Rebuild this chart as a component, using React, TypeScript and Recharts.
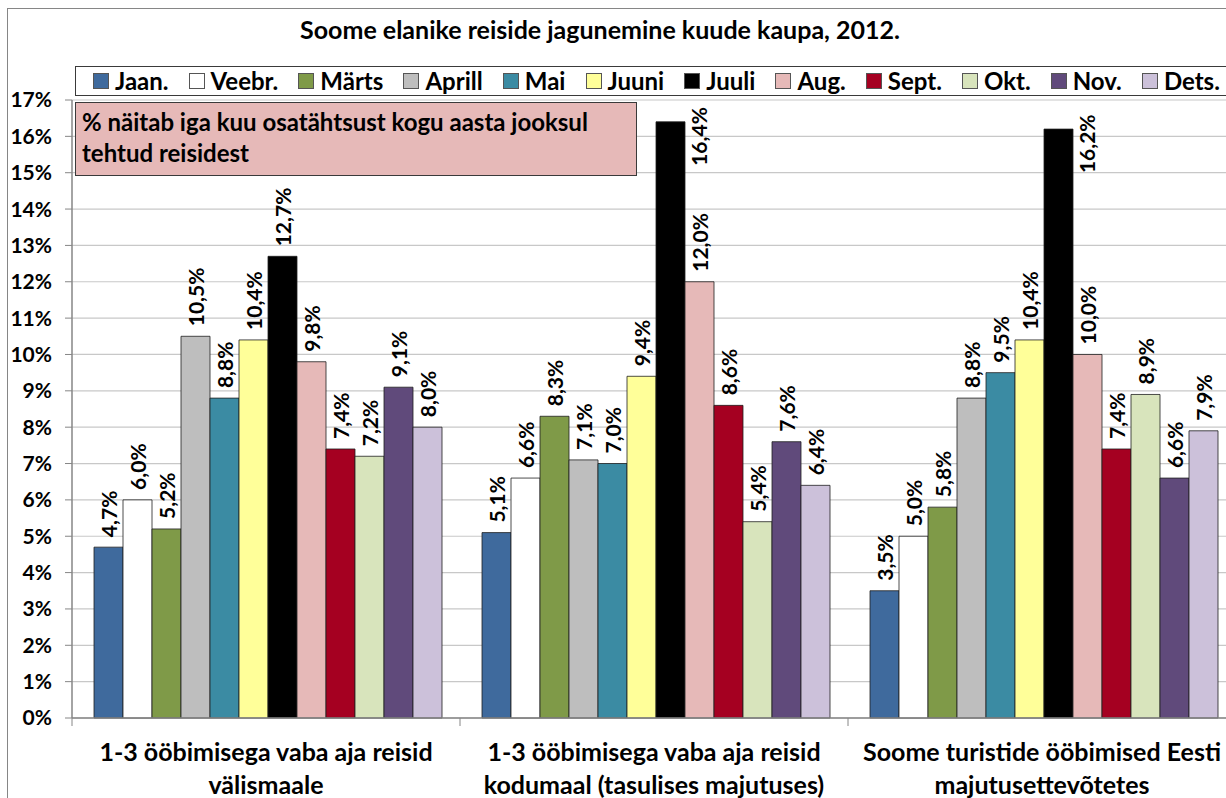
import { BarChart, Bar, XAxis, YAxis, CartesianGrid, LabelList } from 'recharts';

const months = ['Jaan.', 'Veebr.', 'Märts', 'Aprill', 'Mai', 'Juuni', 'Juuli', 'Aug.', 'Sept.', 'Okt.', 'Nov.', 'Dets.'];
const monthColors = ['#3F6A9D', '#FFFFFF', '#7F9A48', '#BEBEBE', '#3B8BA3', '#FFFF99', '#000000', '#E6B9B8', '#A50021', '#D8E4BC', '#604A7B', '#CCC1DA'];

const categories = [
  '1-3 ööbimisega vaba aja reisid\nvälismaale',
  '1-3 ööbimisega vaba aja reisid\nkodumaal (tasulises majutuses)',
  'Soome turistide ööbimised Eesti\nmajutusettevõtetes',
];

// share of each month, %
const abroadTrips = [4.7, 6.0, 5.2, 10.5, 8.8, 10.4, 12.7, 9.8, 7.4, 7.2, 9.1, 8.0];
const domesticTrips = [5.1, 6.6, 8.3, 7.1, 7.0, 9.4, 16.4, 12.0, 8.6, 5.4, 7.6, 6.4];
const estoniaNights = [3.5, 5.0, 5.8, 8.8, 9.5, 10.4, 16.2, 10.0, 7.4, 8.9, 6.6, 7.9];

const yTicks = [0, 1, 2, 3, 4, 5, 6, 7, 8, 9, 10, 11, 12, 13, 14, 15, 16, 17];

const chartData = [abroadTrips, domesticTrips, estoniaNights].map((values, i) => {
  const row: Record<string, string | number> = { name: categories[i] };
  values.forEach((v, m) => (row['m' + m] = v));
  return row;
});

const FONT = 'Lato, "Open Sans", sans-serif';

const fmt = (v: number) => v.toFixed(1).replace('.', ',') + '%';

function renderLabel(props: any) {
  const { x, y, width, value } = props;
  // the two tallest bars get their label beside the bar, like in the original
  const tall = value > 15;
  const cx = tall ? x + width + 14 : x + width / 2;
  const cy = tall ? y + 44 : y - 10;
  return (
    <text
      x={cx}
      y={cy}
      transform={`rotate(-90 ${cx} ${cy})`}
      textAnchor="start"
      dominantBaseline="central"
      fontFamily={FONT}
      fontWeight={700}
      fontSize={21}
      fill="#000"
    >
      {fmt(value)}
    </text>
  );
}

function CategoryTick(props: any) {
  const { x, y, payload, index } = props;
  const half = payload.offset || 194;
  const lines = String(payload.value).split('\n');
  return (
    <g>
      <line x1={x - half} x2={x - half} y1={y} y2={y + 8} stroke="#868686" />
      {index === categories.length - 1 && (
        <line x1={x + half} x2={x + half} y1={y} y2={y + 8} stroke="#868686" />
      )}
      <text x={x} y={y + 43} textAnchor="middle" fontFamily={FONT} fontWeight={700} fontSize={25} fill="#000">
        {lines.map((l, i) => (
          <tspan key={i} x={x} dy={i === 0 ? 0 : 33}>
            {l}
          </tspan>
        ))}
      </text>
    </g>
  );
}

export default function App() {
  return (
    <div style={{ position: 'absolute', left: 0, top: 0, width: 1226, height: 798, overflow: 'hidden', background: '#fff', fontFamily: FONT }}>
      {/* outer chart frame */}
      <div style={{ position: 'absolute', left: 7, top: 8, width: 1400, height: 1000, border: '1px solid #868686' }} />

      <BarChart
        width={1240}
        height={798}
        data={chartData}
        margin={{ top: 100, right: 4, bottom: 0, left: 0 }}
        barCategoryGap={22}
        barGap={0}
        style={{ position: 'absolute', left: 0, top: 0 }}
      >
        <CartesianGrid vertical={false} stroke="#c8c8c8" strokeWidth={1.2} />
        <XAxis
          dataKey="name"
          tick={<CategoryTick />}
          tickLine={false}
          tickSize={0}
          tickMargin={0}
          height={80}
          interval={0}
          axisLine={{ stroke: '#868686', strokeWidth: 1.5 }}
        />
        <YAxis
          width={72}
          domain={[0, 17]}
          ticks={yTicks}
          interval={0}
          tickFormatter={(v) => `${v}%`}
          tick={{ fontFamily: FONT, fontWeight: 700, fontSize: 21, fill: '#000' }}
          tickSize={7}
          tickMargin={13}
          tickLine={{ stroke: '#868686' }}
          axisLine={{ stroke: '#868686', strokeWidth: 1.5 }}
        />
        {months.map((m, i) => (
          <Bar key={m} dataKey={'m' + i} name={m} fill={monthColors[i]} stroke="#1f1f1f" strokeWidth={0.8} isAnimationActive={false}>
            <LabelList dataKey={'m' + i} content={renderLabel} />
          </Bar>
        ))}
      </BarChart>

      {/* title */}
      <div style={{ position: 'absolute', left: 0, top: 14, width: 1200, textAlign: 'center', fontWeight: 700, fontSize: 25, lineHeight: '30px', color: '#000' }}>
        Soome elanike reiside jagunemine kuude kaupa, 2012.
      </div>

      {/* legend */}
      <div
        style={{
          position: 'absolute',
          left: 75,
          top: 66,
          width: 1200,
          height: 28,
          border: '1px solid #3a3a3a',
          background: '#fff',
        }}
      >
        <div style={{ position: 'absolute', left: 17, top: 0, width: 1127, height: 28, display: 'flex', justifyContent: 'space-between', alignItems: 'center' }}>
          {months.map((m, i) => (
            <div key={m} style={{ display: 'flex', alignItems: 'center', fontWeight: 700, fontSize: 24, lineHeight: '28px' }}>
              <span style={{ display: 'inline-block', width: 14, height: 14, background: monthColors[i], border: '1px solid #555', marginRight: 6 }} />
              {m}
            </div>
          ))}
        </div>
      </div>

      {/* note box */}
      <div
        style={{
          position: 'absolute',
          left: 75,
          top: 102,
          width: 548,
          height: 66,
          padding: '3px 6px',
          background: '#E6B9B8',
          border: '1px solid #3a3a3a',
          fontWeight: 700,
          fontSize: 24,
          lineHeight: '31px',
          color: '#000',
          whiteSpace: 'nowrap',
        }}
      >
        % näitab iga kuu osatähtsust kogu aasta jooksul
        <br />
        tehtud reisidest
      </div>
    </div>
  );
}
